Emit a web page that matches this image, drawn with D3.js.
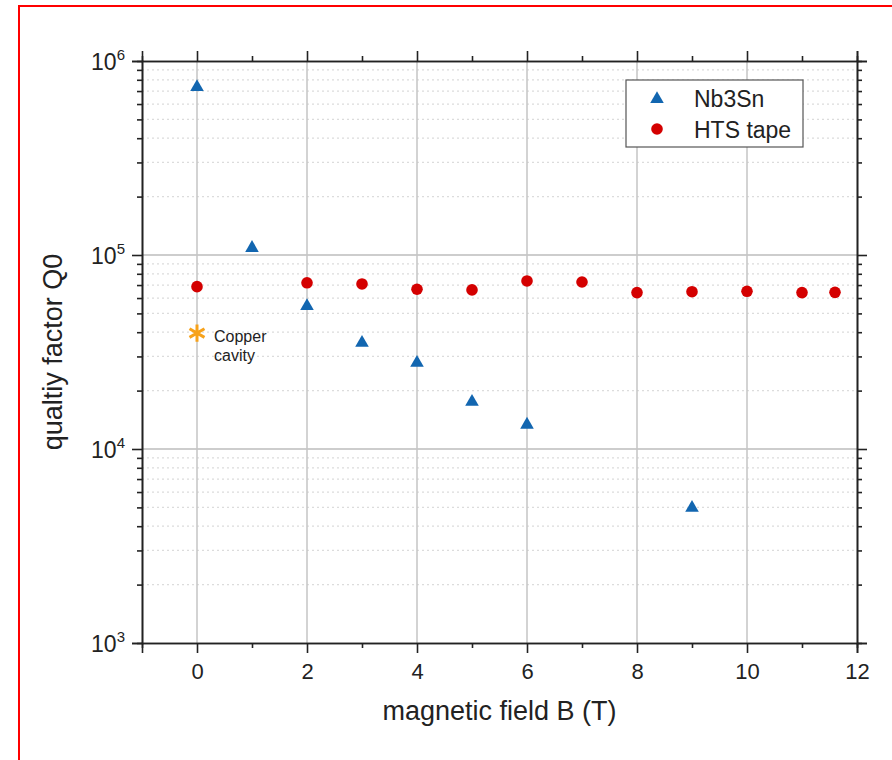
<!DOCTYPE html>
<html>
<head>
    <meta charset="utf-8">
    <title>Quality factor vs magnetic field</title>
    <script src="https://cdn.jsdelivr.net/npm/d3@7"></script>
    <style>
        body { margin: 0; background: #fff; }
        text { font-family: "Liberation Sans", Arial, sans-serif; fill: #222; }
    </style>
</head>
<body>
<div id="container"></div>

<script type="text/javascript">
    // data
    const nbField = [0, 1, 2, 3, 4, 5, 6, 9];
    const nbQ = [7.43e5, 1.10e5, 5.52e4, 3.57e4, 2.81e4, 1.77e4, 1.35e4, 5.03e3];

    const htsField = [0, 2, 3, 4, 5, 6, 7, 8, 9, 10, 11, 11.6];
    const htsQ = [6.87e4, 7.19e4, 7.09e4, 6.66e4, 6.61e4, 7.35e4, 7.26e4, 6.40e4, 6.47e4, 6.50e4, 6.40e4, 6.42e4];

    const copperField = [0];
    const copperQ = [3.96e4];

    const xTicks = [0, 2, 4, 6, 8, 10, 12];
    const xMinorTicks = [1, 3, 5, 7, 9, 11];
    const yDecades = [3, 4, 5, 6];
    const legendNames = ["Nb3Sn", "HTS tape"];

    const blue = "#1266b0", red = "#d40000", orange = "#f7a21b";

    const W = 892, H = 760;
    const plot = {left: 142, right: 857, top: 61, bottom: 643};

    const svg = d3.select("#container")
        .append("svg")
        .attr("width", W)
        .attr("height", H);

    // red outer frame
    svg.append("rect")
        .attr("x", 19).attr("y", 6)
        .attr("width", 900).attr("height", 800)
        .attr("fill", "none")
        .attr("stroke", "#ff0000")
        .attr("stroke-width", 2);

    const x = d3.scaleLinear().domain([-1, 12]).range([plot.left, plot.right]);
    const y = d3.scaleLog().domain([1e3, 1e6]).range([plot.bottom, plot.top]);

    // minor log positions
    const yMinor = [];
    yDecades.slice(0, -1).forEach(e => {
        for (let m = 2; m <= 9; m++) yMinor.push(m * Math.pow(10, e));
    });
    const yMajor = yDecades.map(e => Math.pow(10, e));

    // grid
    const grid = svg.append("g");
    grid.selectAll(".ymin")
        .data(yMinor)
        .join("line")
        .attr("x1", plot.left).attr("x2", plot.right)
        .attr("y1", d => y(d)).attr("y2", d => y(d))
        .attr("stroke", "#dcdcdc")
        .attr("stroke-width", 1.2)
        .attr("stroke-dasharray", "2,3");
    grid.selectAll(".ymaj")
        .data(yMajor.slice(1, -1))
        .join("line")
        .attr("x1", plot.left).attr("x2", plot.right)
        .attr("y1", d => y(d)).attr("y2", d => y(d))
        .attr("stroke", "#bdbdbd")
        .attr("stroke-width", 1.5);
    grid.selectAll(".xmaj")
        .data(xTicks.slice(0, -1))
        .join("line")
        .attr("x1", d => x(d)).attr("x2", d => x(d))
        .attr("y1", plot.top).attr("y2", plot.bottom)
        .attr("stroke", "#c4c4c4")
        .attr("stroke-width", 1.5);

    // axes: four sides, ticks pointing outward
    const bottomAxis = svg.append("g")
        .attr("transform", `translate(0,${plot.bottom})`)
        .call(d3.axisBottom(x).tickValues(xTicks).tickSize(10).tickPadding(10).tickFormat(d3.format("d")));
    bottomAxis.selectAll("text").style("font-size", "22px");
    svg.append("g")
        .attr("transform", `translate(0,${plot.bottom})`)
        .call(d3.axisBottom(x).tickValues(xMinorTicks).tickSize(5).tickFormat(""));

    svg.append("g")
        .attr("transform", `translate(0,${plot.top})`)
        .call(d3.axisTop(x).tickValues(xTicks).tickSize(10).tickFormat(""));
    svg.append("g")
        .attr("transform", `translate(0,${plot.top})`)
        .call(d3.axisTop(x).tickValues(xMinorTicks).tickSize(5).tickFormat(""));

    svg.append("g")
        .attr("transform", `translate(${plot.left},0)`)
        .call(d3.axisLeft(y).tickValues(yMajor).tickSize(10).tickFormat(""));
    svg.append("g")
        .attr("transform", `translate(${plot.left},0)`)
        .call(d3.axisLeft(y).tickValues(yMinor).tickSize(5).tickFormat(""));
    svg.append("g")
        .attr("transform", `translate(${plot.right},0)`)
        .call(d3.axisRight(y).tickValues(yMajor).tickSize(10).tickFormat(""));
    svg.append("g")
        .attr("transform", `translate(${plot.right},0)`)
        .call(d3.axisRight(y).tickValues(yMinor).tickSize(5).tickFormat(""));

    svg.selectAll(".domain").attr("stroke", "#222").attr("stroke-width", 1.6);
    svg.selectAll(".tick line").attr("stroke", "#222").attr("stroke-width", 1.6);

    // y tick labels 10^n
    const yLab = svg.append("g").selectAll("text")
        .data(yDecades)
        .join("text")
        .attr("x", 125)
        .attr("y", d => y(Math.pow(10, d)) + 9)
        .attr("text-anchor", "end")
        .style("font-size", "23px");
    yLab.append("tspan").text("10");
    yLab.append("tspan")
        .attr("dy", -10)
        .style("font-size", "15px")
        .text(d => d);

    // axis titles
    svg.append("text")
        .attr("x", (plot.left + plot.right) / 2)
        .attr("y", 720)
        .attr("text-anchor", "middle")
        .style("font-size", "27px")
        .text("magnetic field B (T)");
    svg.append("text")
        .attr("transform", `translate(62,${(plot.top + plot.bottom) / 2}) rotate(-90)`)
        .attr("text-anchor", "middle")
        .style("font-size", "27px")
        .text("qualtiy factor Q0");

    // markers
    const tri = d3.symbol().type(d3.symbolTriangle).size(80);
    const nbData = nbField.map((f, i) => ({f: f, q: nbQ[i]}));
    const htsData = htsField.map((f, i) => ({f: f, q: htsQ[i]}));

    svg.append("g").selectAll("circle")
        .data(htsData)
        .join("circle")
        .attr("cx", d => x(d.f))
        .attr("cy", d => y(d.q))
        .attr("r", 5.8)
        .attr("fill", red);

    svg.append("g").selectAll("path")
        .data(nbData)
        .join("path")
        .attr("d", tri)
        .attr("transform", d => `translate(${x(d.f)},${y(d.q) + 1})`)
        .attr("fill", blue);

    // copper cavity asterisk
    const cu = svg.append("g").selectAll("g")
        .data(copperField.map((f, i) => ({f: f, q: copperQ[i]})))
        .join("g")
        .attr("transform", d => `translate(${x(d.f)},${y(d.q)})`);
    cu.append("path")
        .attr("d", d3.symbol().type(d3.symbolAsterisk).size(210))
        .attr("stroke", orange)
        .attr("stroke-width", 3)
        .attr("fill", "none");
    const cuText = cu.append("text")
        .attr("y", 9)
        .style("font-size", "16px");
    cuText.append("tspan").attr("x", 17).text("Copper");
    cuText.append("tspan").attr("x", 17).attr("dy", 19).text("cavity");

    // legend
    const legend = svg.append("g").attr("transform", "translate(626,80)");
    legend.append("rect")
        .attr("width", 177).attr("height", 67)
        .attr("fill", "#fff")
        .attr("stroke", "#555")
        .attr("stroke-width", 1.2);
    const items = legend.selectAll(".item")
        .data(legendNames)
        .join("g")
        .attr("transform", (d, i) => `translate(0,${18 + i * 31})`);
    items.filter((d, i) => i === 0).append("path")
        .attr("d", tri)
        .attr("transform", "translate(31,1)")
        .attr("fill", blue);
    items.filter((d, i) => i === 1).append("circle")
        .attr("cx", 31).attr("cy", 0).attr("r", 5.8)
        .attr("fill", red);
    items.append("text")
        .attr("x", 68)
        .attr("y", 9)
        .style("font-size", "23px")
        .text(d => d);
</script>
</body>
</html>
